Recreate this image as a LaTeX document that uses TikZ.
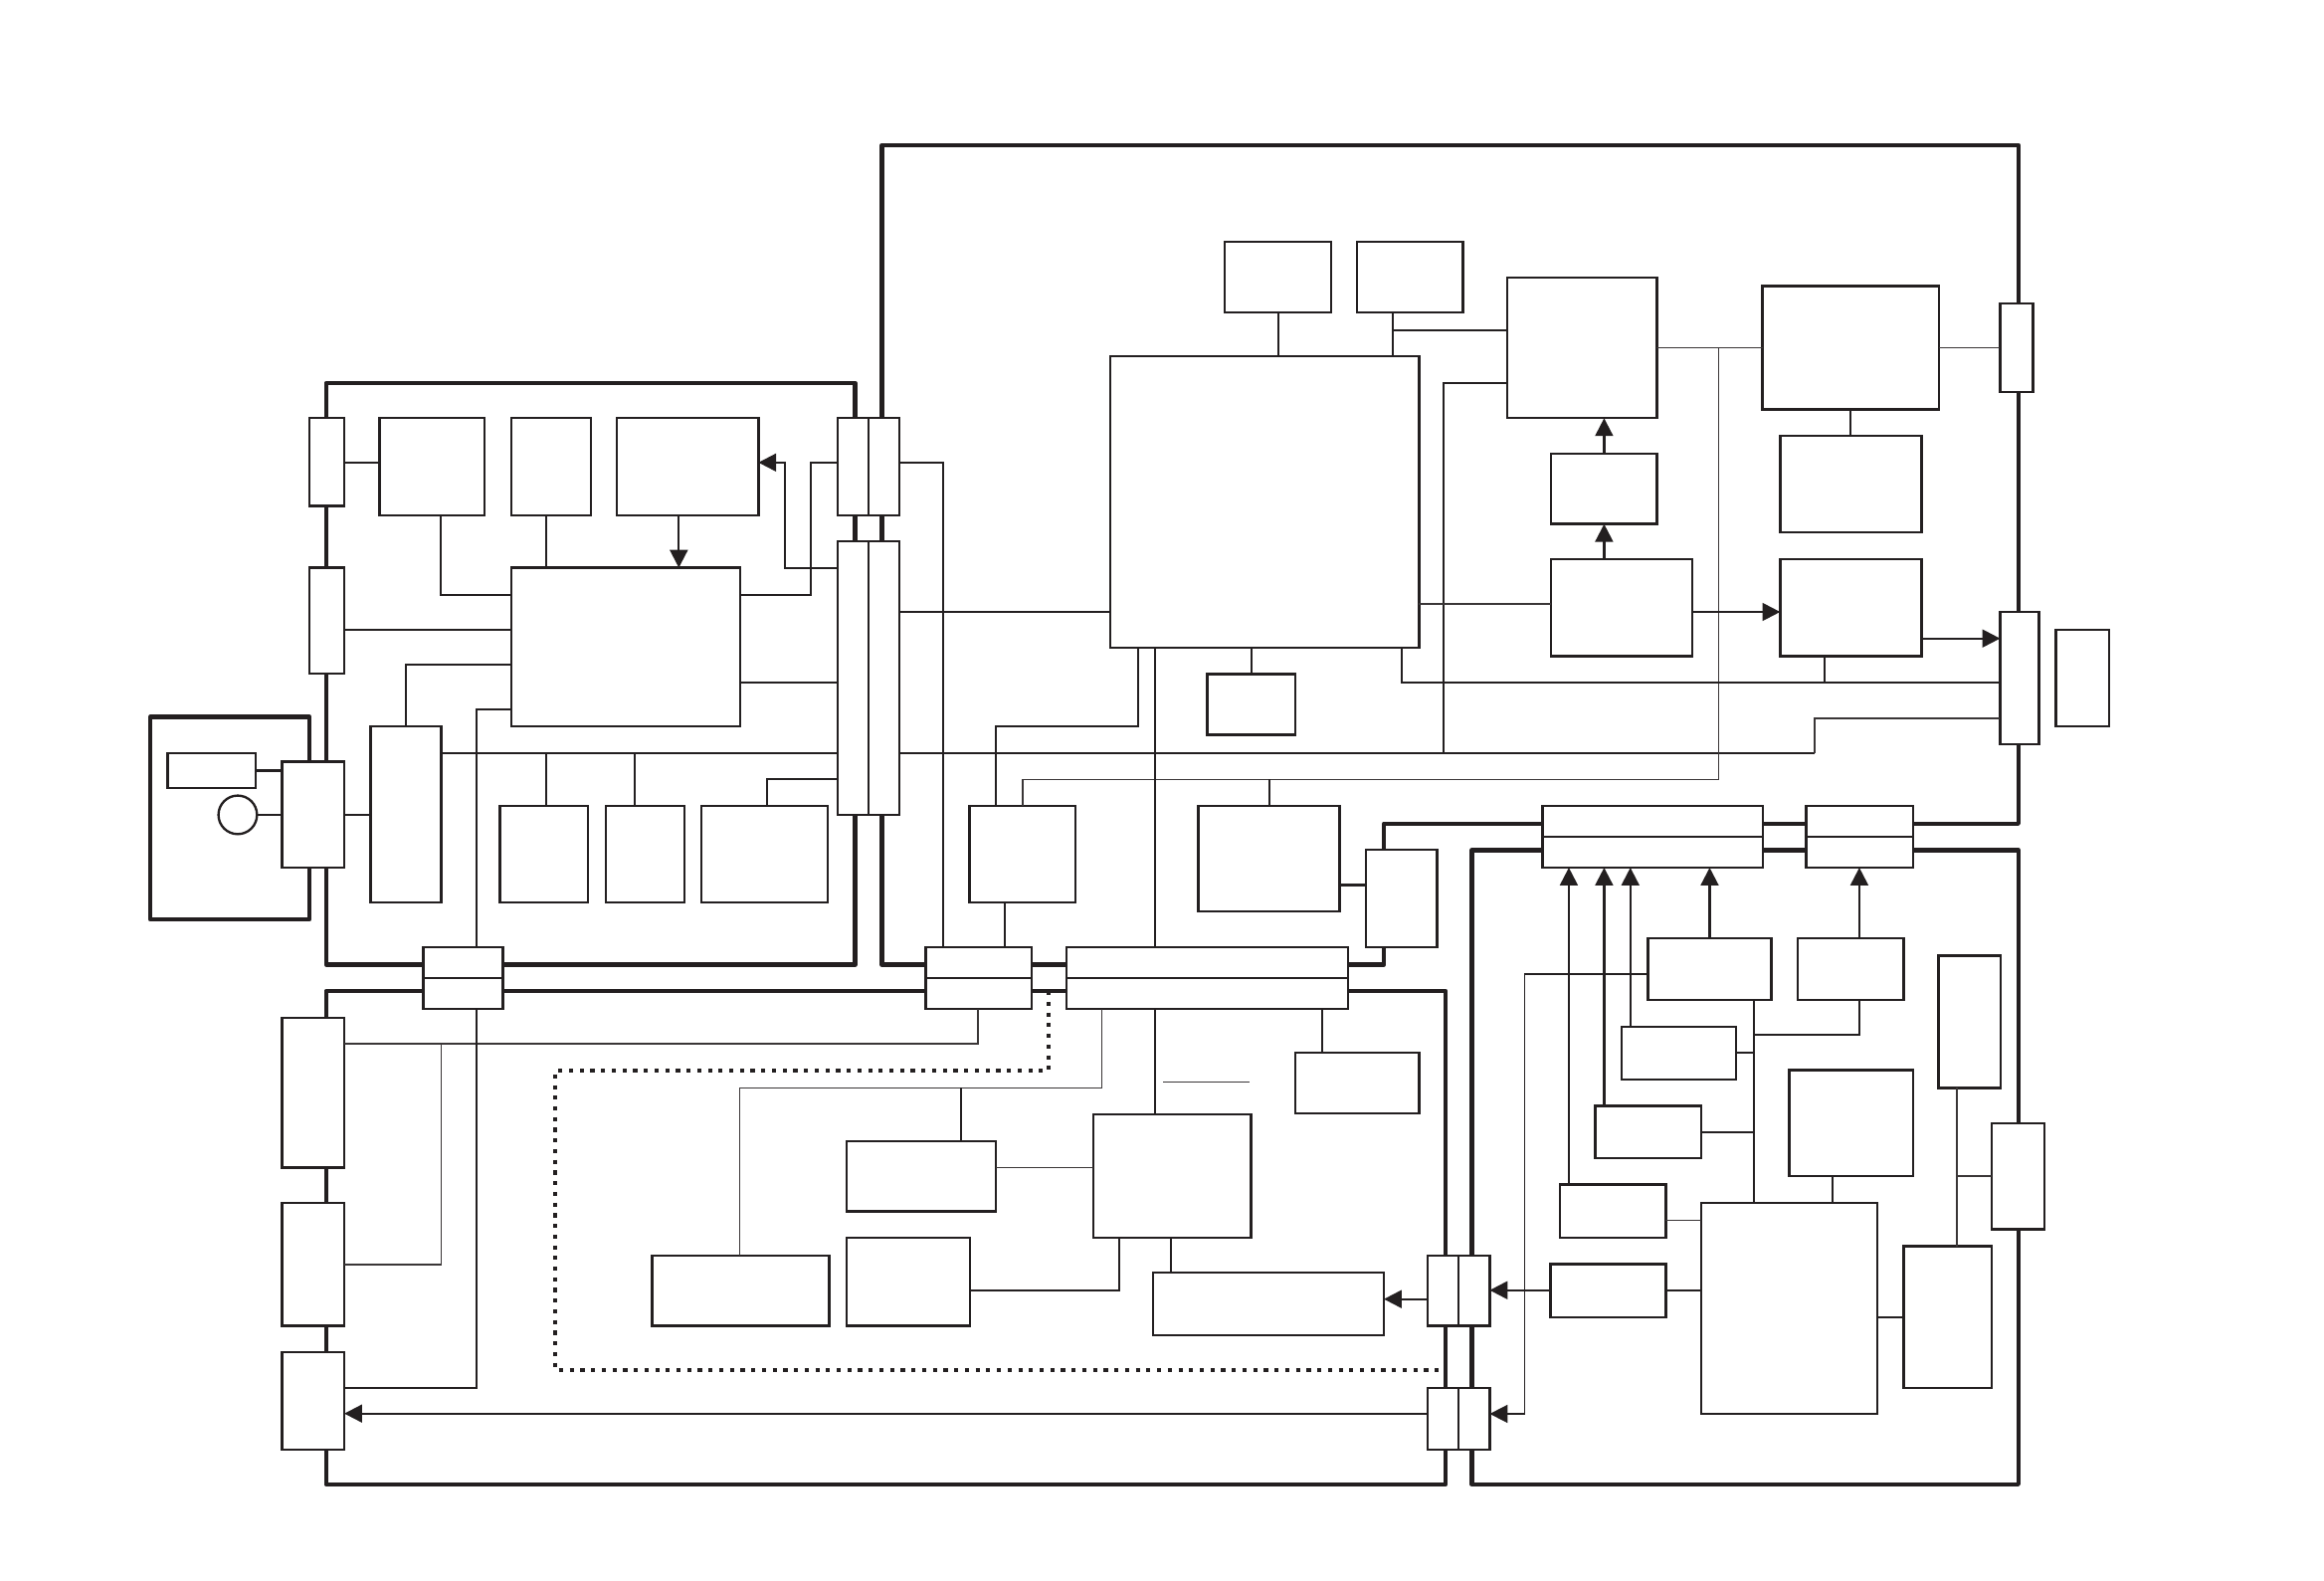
\documentclass[tikz,border=0pt]{standalone}
\usepackage{tikz}
\usetikzlibrary{arrows.meta,fit}
\definecolor{ink}{HTML}{231F20}
\definecolor{faintink}{HTML}{3A3637}
\tikzset{
  box/.style={draw=ink, fill=white, line width=0.45pt, inner sep=0pt, outer sep=0pt},
  frame/.style={draw=ink, line width=0.86pt, line join=round},
  wire/.style={draw=ink, line width=0.42pt},
  faint/.style={draw=faintink, line width=0.32pt},
  arrow/.style={-{Triangle[length=1.2mm,width=1.2mm]}, line width=0.42pt, draw=ink},
  dotline/.style={draw=ink, line width=0.8pt, dash pattern=on 0.8pt off 1.25pt}
}

\begin{document}
\begin{tikzpicture}[x=0.1mm,y=-0.1mm]
  \useasboundingbox (0,0) rectangle (1568,1066);

  % region frames
  \draw[frame] (101.4,483.7) rectangle (208.8,620.2);
  \draw[frame] (220,258.4) rectangle (577,650.7);
  \draw[frame] (595,98) -- (1361.8,98) -- (1361.8,555.6) -- (933.7,555.6)
               -- (933.7,650.7) -- (595,650.7) -- cycle;
  \draw[frame] (220,668.6) rectangle (975.3,1001.3);
  \draw[frame] (993.1,573.4) rectangle (1361.8,1001.3);
  \draw[dotline] (707.7,668.6) -- (707.7,722.3) -- (374.8,722.3)
                 -- (374.8,924.1) -- (970.4,924.1);

  % small panel (left)
  \node[box, fit={(113.2,508) (172.7,531.8)}] (sw) {};
  \node[box, circle, minimum size=2.6mm] (dial) at (160.4,549.7) {};
  \node[box, fit={(190.4,513.7) (232.3,585.5)}] (b0) {};

  % left board
  \node[box, fit={(208.8,282) (232.3,341.4)}] (b1) {};
  \node[box, fit={(208.8,383) (232.3,454.2)}] (b2) {};
  \node[box, fit={(256,282) (327,347.5)}] (a1) {};
  \node[box, fit={(345,282) (398.5,347.5)}] (a2) {};
  \node[box, fit={(416.2,282) (511.7,347.5)}] (a3) {};
  \node[box, fit={(345,383) (499.6,490)}] (a4) {};
  \node[box, fit={(250,490) (297.6,609)}] (a5) {};
  \node[box, fit={(337.2,543.7) (396.7,609)}] (a6) {};
  \node[box, fit={(408.6,543.7) (462,609)}] (a7) {};
  \node[box, fit={(473.4,543.7) (558.5,609)}] (a8) {};
  \node[box, fit={(565,282) (585.8,347.5)}] (c1l) {};
  \node[box, fit={(585.8,282) (606.8,347.5)}] (c1r) {};
  \node[box, fit={(565,365) (585.8,549.7)}] (c2l) {};
  \node[box, fit={(585.8,365) (606.8,549.7)}] (c2r) {};

  % main board
  \node[box, fit={(826.2,163.3) (897.9,210.8)}] (d1) {};
  \node[box, fit={(915.6,163.3) (987.1,210.8)}] (d2) {};
  \node[box, fit={(749.2,240.5) (957.5,436.8)}] (cpu) {};
  \node[box, fit={(814.6,454.7) (874,495.8)}] (w) {};
  \node[box, fit={(1016.7,187.3) (1117.9,282.1)}] (e) {};
  \node[box, fit={(1046.5,305.9) (1117.9,353.5)}] (f) {};
  \node[box, fit={(1046.5,377.2) (1141.7,442.6)}] (g) {};
  \node[box, fit={(1189.1,192.9) (1308.4,276.1)}] (h) {};
  \node[box, fit={(1201.1,293.8) (1296.4,359.3)}] (i) {};
  \node[box, fit={(1201.1,377.2) (1296.4,442.6)}] (j) {};
  \node[box, fit={(1349.5,204.7) (1371.7,264.5)}] (k1) {};
  \node[box, fit={(1349.5,412.8) (1375.6,501.9)}] (k2) {};
  \node[box, fit={(1387.2,424.7) (1423,490)}] (ext) {};
  \node[box, fit={(654.2,543.7) (725.6,609)}] (z) {};
  \node[box, fit={(808.6,543.7) (903.9,614.9)}] (v) {};
  \node[box, fit={(921.6,573.4) (969.6,638.8)}] (u) {};

  % bus connectors
  \node[box, fit={(285.7,638.8) (339.2,659.6)}] (bb1t) {};
  \node[box, fit={(285.7,659.6) (339.2,680.6)}] (bb1b) {};
  \node[box, fit={(624.5,638.8) (695.9,659.6)}] (bb2t) {};
  \node[box, fit={(624.5,659.6) (695.9,680.6)}] (bb2b) {};
  \node[box, fit={(719.6,638.8) (909.6,659.6)}] (bb3t) {};
  \node[box, fit={(719.6,659.6) (909.6,680.6)}] (bb3b) {};
  \node[box, fit={(1040.7,543.7) (1189.3,564.3)}] (n1t) {};
  \node[box, fit={(1040.7,564.3) (1189.3,585.3)}] (n1b) {};
  \node[box, fit={(1218.7,543.7) (1290.6,564.3)}] (n2t) {};
  \node[box, fit={(1218.7,564.3) (1290.6,585.3)}] (n2b) {};
  \node[box, fit={(963,846.9) (984,894.5)}] (s1l) {};
  \node[box, fit={(984,846.9) (1005.1,894.5)}] (s1r) {};
  \node[box, fit={(963,936.4) (984,978)}] (s2l) {};
  \node[box, fit={(984,936.4) (1005.1,978)}] (s2r) {};

  % lower board
  \node[box, fit={(190.4,686.5) (232.3,787.6)}] (l1) {};
  \node[box, fit={(190.4,811.3) (232.3,894.5)}] (l2) {};
  \node[box, fit={(190.4,912) (232.3,978)}] (l3) {};
  \node[box, fit={(440.1,846.9) (559.4,894.3)}] (m1) {};
  \node[box, fit={(571,769.7) (672.1,817.1)}] (m2) {};
  \node[box, fit={(571,835) (654.5,894.3)}] (m3) {};
  \node[box, fit={(737.5,751.8) (844,835)}] (x) {};
  \node[box, fit={(874,710) (957.5,751)}] (y) {};
  \node[box, fit={(778,858.7) (933.7,900.6)}] (t) {};

  % right board
  \node[box, fit={(1111.9,632.8) (1195.1,674.6)}] (p1) {};
  \node[box, fit={(1212.7,632.8) (1284.3,674.6)}] (p2) {};
  \node[box, fit={(1093.9,692.5) (1171.5,728.3)}] (p3) {};
  \node[box, fit={(1076.2,746) (1147.8,781.5)}] (p5) {};
  \node[box, fit={(1052.3,799.2) (1123.9,835)}] (p6) {};
  \node[box, fit={(1046.2,852.9) (1123.9,888.5)}] (p7) {};
  \node[box, fit={(1207.1,722) (1290.6,793.4)}] (p9) {};
  \node[box, fit={(1147.6,811.5) (1266.6,953.8)}] (q) {};
  \node[box, fit={(1308,644.8) (1349.7,733.9)}] (p4) {};
  \node[box, fit={(1284.3,840.8) (1343.8,936.4)}] (p8) {};
  \node[box, fit={(1343.9,757.6) (1379.4,829.2)}] (k3) {};

  % wiring, small panel and left board
  \draw[wire] (sw.east) -- (sw.east -| b0.west);
  \draw[wire] (dial.east) -- (dial.east -| b0.west);
  \draw[wire] (b0.east) -- (b0.east -| a5.west);
  \draw[wire] (b1.east |- 0,312) -- (a1.west |- 0,312);
  \draw[wire] (a1.south -| 297.4,0) |- (a4.west |- 0,401.2);
  \draw[wire] (a2.south -| 368.7,0) -- (a4.north -| 368.7,0);
  \draw[arrow] (a3.south -| 458,0) -- (a4.north -| 458,0);
  \draw[wire] (b2.east |- 0,424.9) -- (a4.west |- 0,424.9);
  \draw[wire] (a4.west |- 0,448.6) -| (a5.north -| 273.6,0);
  \draw[wire] (a4.west |- 0,478.4) -| (bb1t.north -| 321.5,0);
  \draw[wire] (a5.east |- 0,507.9) -- (c2l.west |- 0,507.9);
  \draw[wire] (a6.north -| 368.7,0) -- (368.7,507.9);
  \draw[wire] (a7.north -| 428,0) -- (428,507.9);
  \draw[wire] (a8.north -| 517.3,0) |- (c2l.west |- 0,525.8);
  \draw[arrow] (c2l.west |- 0,383) -| (529.4,312) -- (a3.east |- 0,312);
  \draw[wire] (a4.east |- 0,401.2) -| (547,312) -- (c1l.west |- 0,312);
  \draw[wire] (a4.east |- 0,460.2) -- (c2l.west |- 0,460.2);

  % wiring, main board
  \draw[wire] (c1r.east |- 0,312) -| (bb2t.north -| 636.3,0);
  \draw[wire] (c2r.east |- 0,412.8) -- (cpu.west |- 0,412.8);
  \draw[wire] (c2r.east |- 0,507.9) -- (1224.2,507.9);
  \draw[faint] (1224.2,507.9) |- (k2.west |- 0,484.4);
  \draw[wire] (d1.south -| 862.5,0) -- (cpu.north -| 862.5,0);
  \draw[wire] (d2.south -| 939.7,0) -- (cpu.north -| 939.7,0);
  \draw[wire] (939.7,222.6) -- (e.west |- 0,222.6);
  \draw[wire] (e.west |- 0,258.4) -| (973.7,507.9);
  \draw[arrow] (f.north -| 1082.3,0) -- (e.south -| 1082.3,0);
  \draw[arrow] (g.north -| 1082.3,0) -- (f.south -| 1082.3,0);
  \draw[faint] (e.east |- 0,234.5) -- (h.west |- 0,234.5);
  \draw[faint] (h.east |- 0,234.5) -- (k1.west |- 0,234.5);
  \draw[faint] (1159.5,234.5) |- (689.8,525.8) -- (z.north -| 689.8,0);
  \draw[wire] (v.north -| 856.5,0) -- (856.5,525.8);
  \draw[wire] (h.south -| 1248.7,0) -- (i.north -| 1248.7,0);
  \draw[faint] (cpu.east |- 0,407.2) -- (g.west |- 0,407.2);
  \draw[arrow] (g.east |- 0,412.8) -- (j.west |- 0,412.8);
  \draw[arrow] (j.east |- 0,430.7) -- (k2.west |- 0,430.7);
  \draw[wire] (cpu.south -| 945.7,0) |- (k2.west |- 0,460.5);
  \draw[wire] (j.south -| 1231.2,0) -- (1231.2,460.5);
  \draw[wire] (cpu.south -| 844.4,0) -- (w.north -| 844.4,0);
  \draw[wire] (cpu.south -| 768,0) |- (672,490) -- (z.north -| 672,0);
  \draw[wire] (cpu.south -| 779.3,0) -- (bb3t.north -| 779.3,0);
  \draw[wire] (z.south -| 678,0) -- (bb2t.north -| 678,0);
  \draw[wire] (v.east |- 0,597) -- (u.west |- 0,597);

  % wiring, lower board
  \draw[faint] (l1.east |- 0,704.3) -| (bb2b.south -| 660,0);
  \draw[faint] (297.6,704.3) |- (l2.east |- 0,853.2);
  \draw[wire] (bb1b.south -| 321.5,0) |- (l3.east |- 0,936.4);
  \draw[faint] (m1.north -| 499,0) |- (743.3,733.9) -- (bb3b.south -| 743.3,0);
  \draw[wire] (m2.north -| 648.4,0) -- (648.4,733.9);
  \draw[wire] (bb3b.south -| 779.3,0) -- (x.north -| 779.3,0);
  \draw[wire] (bb3b.south -| 891.8,0) -- (y.north -| 891.8,0);
  \draw[faint] (785,730) -- (843,730);
  \draw[faint] (m2.east |- 0,787.6) -- (x.west |- 0,787.6);
  \draw[wire] (m3.east |- 0,870.4) -| (x.south -| 755.1,0);
  \draw[wire] (x.south -| 790,0) -- (t.north -| 790,0);
  \draw[arrow] (s1l.west |- 0,876.4) -- (t.east |- 0,876.4);
  \draw[arrow] (s2l.west |- 0,953.6) -- (l3.east |- 0,953.6);

  % wiring, right board
  \draw[arrow] (p1.north -| 1153.5,0) -- (n1b.south -| 1153.5,0);
  \draw[arrow] (p3.north -| 1100,0) -- (n1b.south -| 1100,0);
  \draw[arrow] (p5.north -| 1082.3,0) -- (n1b.south -| 1082.3,0);
  \draw[arrow] (p6.north -| 1058.5,0) -- (n1b.south -| 1058.5,0);
  \draw[arrow] (p2.north -| 1254.5,0) -- (n2b.south -| 1254.5,0);
  \draw[wire] (p1.south -| 1183.4,0) -- (q.north -| 1183.4,0);
  \draw[wire] (p2.south -| 1254.5,0) |- (1183.4,698.3);
  \draw[wire] (p3.east |- 0,710.2) -- (1183.4,710.2);
  \draw[wire] (p5.east |- 0,763.6) -- (1183.4,763.6);
  \draw[faint] (p6.east |- 0,823.2) -- (q.west |- 0,823.2);
  \draw[wire] (p7.east |- 0,870.4) -- (q.west |- 0,870.4);
  \draw[arrow] (p7.west |- 0,870.4) -- (s1r.east |- 0,870.4);
  \draw[arrow, line width=0.32pt] (p1.west |- 0,656.9) -| (1028.6,953.8) -- (s2r.east |- 0,953.8);
  \draw[wire] (p9.south -| 1236.6,0) -- (q.north -| 1236.6,0);
  \draw[wire] (q.east |- 0,888.5) -- (p8.west |- 0,888.5);
  \draw[faint] (p4.south -| 1320.1,0) -- (p8.north -| 1320.1,0);
  \draw[faint] (1320.1,793.4) -- (k3.west |- 0,793.4);
\end{tikzpicture}
\end{document}
